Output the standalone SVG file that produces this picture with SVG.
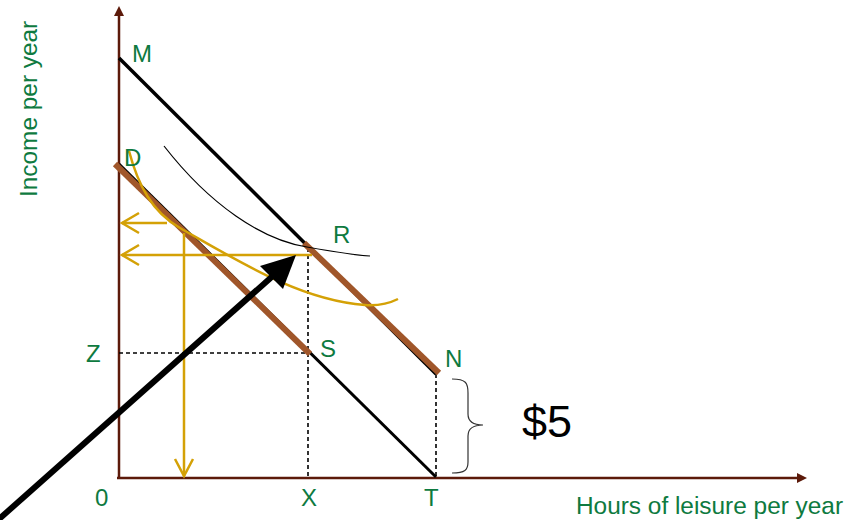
<svg xmlns="http://www.w3.org/2000/svg" width="860" height="520" viewBox="0 0 860 520">
<style>
.lbl{font-family:"Liberation Sans",Arial,sans-serif;font-size:24px;fill:#0e7a40}
.axl{font-size:24.4px}
.axis{stroke:#5c1a0a;stroke-width:2.5;fill:none}
.blk{stroke:#000;stroke-width:3.5;fill:none}
.brn{stroke:#a0562a;stroke-width:6;fill:none}
.gold{stroke:#d4a106;stroke-width:2.5;fill:none}
.dash{stroke:#000;stroke-width:1.6;stroke-dasharray:4 3;fill:none}
</style>
<rect width="860" height="520" fill="#fff"/>
<g id="axes">
<line class="axis" x1="119" y1="479" x2="119" y2="14"/>
<polygon points="119,6 114,16 124,16" fill="#5c1a0a"/>
<line class="axis" x1="117" y1="478" x2="798" y2="478"/>
<polygon points="807,478 797,473 797,483" fill="#5c1a0a"/>
</g>
<g id="guides">
<line class="dash" x1="119" y1="353" x2="310" y2="353"/>
<line class="dash" x1="308" y1="248" x2="308" y2="477"/>
<line class="dash" x1="436" y1="374" x2="436" y2="477"/>
</g>
<g id="budget-lines">
<line class="blk" x1="119" y1="58" x2="436" y2="374"/>
<line class="blk" x1="119" y1="164" x2="436" y2="477" style="stroke-width:3"/>
<line class="brn" x1="115" y1="164" x2="310" y2="354"/>
<line class="brn" x1="304" y1="243" x2="439" y2="373"/>
</g>
<g id="curves">
<path d="M164,146 C210,205 262,240 307,247 C335,252 352,255 370,256" stroke="#000" stroke-width="1.2" fill="none"/>
<path class="gold" d="M129,151 C138,185 152,212 180,228 C240,262 300,300 365,305 C380,306 390,303 398,299"/>
</g>
<g id="gold-arrows">
<line class="gold" x1="167" y1="223" x2="122" y2="223"/>
<polyline class="gold" points="139,213 122,223 139,233"/>
<line class="gold" x1="312" y1="255" x2="122" y2="255"/>
<polyline class="gold" points="139,245 122,255 139,265"/>
<line class="gold" x1="184" y1="233" x2="184" y2="476"/>
<polyline class="gold" points="175,459 184,476 193,459"/>
</g>
<g id="big-arrow">
<line x1="-2" y1="520" x2="275" y2="274" stroke="#000" stroke-width="6"/>
<polygon points="296,255 260,266 283,289" fill="#000"/>
</g>
<g id="brace">
<path d="M452,379 C466,379 468,383 468,393 L468,414 C468,421 472,425 483,425 C472,425 468,429 468,436 L468,462 C468,470 465,473 452,473" stroke="#333" stroke-width="1.2" fill="none"/>
</g>
<g id="labels">
<text class="lbl" x="132" y="62">M</text>
<text class="lbl" x="124" y="166">D</text>
<text class="lbl" x="333" y="243">R</text>
<text class="lbl" x="320" y="357">S</text>
<text class="lbl" x="445" y="367">N</text>
<text class="lbl" x="86" y="362">Z</text>
<text class="lbl" x="95" y="506">0</text>
<text class="lbl" x="301" y="506">X</text>
<text class="lbl" x="424" y="506">T</text>
<text class="lbl axl" x="576" y="514">Hours of leisure per year</text>
<text class="lbl axl" transform="translate(37,197) rotate(-90)">Income per year</text>
<text x="522" y="437" font-family="Liberation Sans,Arial,sans-serif" font-size="45" fill="#000">$5</text>
</g>
</svg>
